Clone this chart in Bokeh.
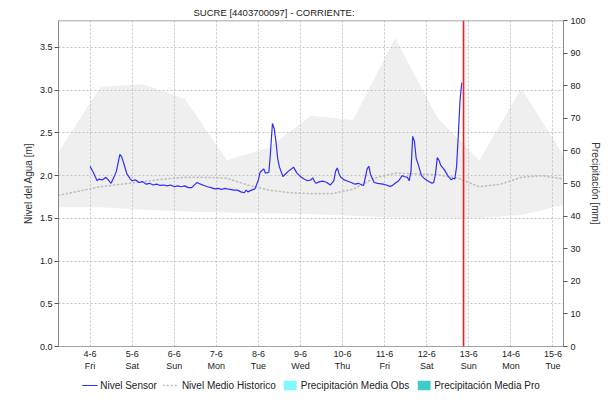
import pandas as pd
from bokeh.plotting import figure
from bokeh.layouts import column
from bokeh.models import (Range1d, LinearAxis, FixedTicker, Span, Legend, LegendItem,
                          CustomJSTickFormatter, NumeralTickFormatter)
from bokeh.embed import file_html
from bokeh.resources import INLINE

# ---------------- data ----------------
title_text = "SUCRE [4403700097] - CORRIENTE:"

sensor_start = "2021-06-04 00:00"
sensor_hours = [0, 2, 4, 5, 7, 9, 10, 12, 14, 15, 17, 18, 19, 21, 23, 24, 26, 28, 30, 32,
                34, 36, 38, 40, 42, 44, 46, 48, 50, 52, 54, 56, 58, 60, 61, 63, 65, 67, 69, 71,
                73, 75, 77, 78, 80, 82, 84, 86, 88, 89, 90, 92, 94, 96, 97, 99, 100, 102, 103, 104,
                105, 106, 107, 108, 110, 111, 113, 115, 116, 118, 120, 122, 124, 126, 127, 128, 129, 131, 133, 135,
                137, 139, 140, 141, 142, 143, 145, 147, 149, 151, 153, 155, 156, 157, 158, 159, 160, 162, 164, 167,
                169, 171, 172, 174, 176, 178, 179, 181, 182, 183, 184, 185, 186, 187, 189, 191, 193, 195, 196, 197,
                198, 199, 200, 202, 204, 206, 207, 208, 209, 210, 211, 212]
sensor_level = [2.11, 2.03, 1.94, 1.96, 1.95, 1.98, 1.96, 1.91, 2.00, 2.05, 2.25, 2.22, 2.16, 2.02, 1.96, 1.94, 1.95, 1.92, 1.93, 1.90,
                1.91, 1.89, 1.90, 1.885, 1.89, 1.88, 1.89, 1.87, 1.88, 1.87, 1.88, 1.86, 1.86, 1.90, 1.92, 1.90, 1.885, 1.87, 1.86, 1.845,
                1.85, 1.84, 1.85, 1.845, 1.84, 1.83, 1.83, 1.81, 1.80, 1.83, 1.81, 1.83, 1.845, 1.95, 2.04, 2.08, 2.03, 2.04, 2.30, 2.61,
                2.55, 2.40, 2.20, 2.10, 1.99, 2.01, 2.05, 2.08, 2.10, 2.03, 1.99, 1.96, 1.94, 1.95, 1.975, 1.93, 1.91, 1.93, 1.935, 1.92,
                1.89, 1.94, 2.05, 2.09, 2.02, 1.98, 1.95, 1.935, 1.92, 1.90, 1.91, 1.89, 1.885, 1.98, 2.08, 2.11, 2.01, 1.92, 1.91, 1.90,
                1.89, 1.875, 1.88, 1.91, 1.94, 2.00, 1.99, 1.98, 1.94, 2.05, 2.46, 2.40, 2.20, 2.14, 2.00, 1.96, 1.935, 1.91, 1.92, 2.02,
                2.21, 2.18, 2.12, 2.07, 2.00, 1.95, 1.97, 1.96, 2.10, 2.47, 2.88, 3.09]

band_times = ["2021-06-03 06:00", "2021-06-04 06:00", "2021-06-05 06:00", "2021-06-06 06:00",
              "2021-06-07 06:00", "2021-06-08 06:00", "2021-06-09 06:00", "2021-06-10 06:00",
              "2021-06-11 06:00", "2021-06-12 06:00", "2021-06-13 06:00", "2021-06-14 06:00",
              "2021-06-15 06:00"]
band_upper = [2.28, 3.04, 3.07, 2.90, 2.18, 2.33, 2.70, 2.65, 3.61, 2.68, 2.18, 3.02, 2.24]
band_lower = [1.63, 1.63, 1.60, 1.58, 1.57, 1.56, 1.55, 1.53, 1.51, 1.50, 1.50, 1.54, 1.66]

hist_times = ["2021-06-03 06:00", "2021-06-03 18:00", "2021-06-04 06:00", "2021-06-04 18:00",
              "2021-06-05 06:00", "2021-06-05 18:00", "2021-06-06 06:00", "2021-06-06 18:00",
              "2021-06-07 06:00", "2021-06-07 18:00", "2021-06-08 06:00", "2021-06-08 18:00",
              "2021-06-09 06:00", "2021-06-09 18:00", "2021-06-10 06:00", "2021-06-10 18:00",
              "2021-06-11 06:00", "2021-06-11 18:00", "2021-06-12 06:00", "2021-06-12 18:00",
              "2021-06-13 06:00", "2021-06-13 18:00", "2021-06-14 06:00", "2021-06-14 18:00",
              "2021-06-15 06:00"]
hist_level = [1.77, 1.82, 1.87, 1.90, 1.93, 1.96, 1.98, 1.98, 1.97, 1.89, 1.83, 1.80, 1.79,
              1.79, 1.84, 1.97, 2.03, 2.02, 2.01, 1.97, 1.87, 1.90, 1.98, 2.00, 1.96]

# no precipitation recorded in the window (zero-height bars)
precip_obs_times = ["2021-06-12 12:00"]
precip_obs = [0.0]
precip_pro_times = ["2021-06-13 12:00"]
precip_pro = [0.0]

now_time = "2021-06-12 21:00"
day_ticks = ["2021-06-04", "2021-06-05", "2021-06-06", "2021-06-07", "2021-06-08", "2021-06-09",
             "2021-06-10", "2021-06-11", "2021-06-12", "2021-06-13", "2021-06-14", "2021-06-15"]
x_start, x_end = "2021-06-03 06:00", "2021-06-15 06:00"
level_ticks = [0.0, 0.5, 1.0, 1.5, 2.0, 2.5, 3.0, 3.5]
level_max = 3.816
precip_ticks = [0, 10, 20, 30, 40, 50, 60, 70, 80, 90, 100]
precip_max = 100

# ---------------- styles ----------------
FONT = "Liberation Sans"
SENSOR = dict(line_color="#2e2eff", line_width=1.2)
HIST = dict(line_color="#bdbdbd", line_width=1.6, line_dash="1 3", line_cap="round")
OBS = dict(fill_color="#7ff9f9", line_color=None)
PRO = dict(fill_color="#3fcaca", line_color=None)

def ms(s):
    return pd.Timestamp(s).value / 1e6

sensor_x = [t.value / 1e6 for t in pd.Timestamp(sensor_start) + pd.to_timedelta(sensor_hours, unit="h")]
hist_x = [ms(t) for t in hist_times]
obs_x = [ms(t) for t in precip_obs_times]
pro_x = [ms(t) for t in precip_pro_times]
day_ms = [ms(d) for d in day_ticks]

# ---------------- main figure ----------------
p = figure(x_axis_type="datetime", frame_width=505, frame_height=326,
           x_range=Range1d(ms(x_start), ms(x_end)), y_range=Range1d(0, level_max),
           output_backend="svg", toolbar_location=None,
           min_border_left=58, min_border_right=40, min_border_top=20, min_border_bottom=0)
p.outline_line_color = None
p.background_fill_color = "white"
p.border_fill_color = "white"

p.title.text = title_text
p.title.align = "left"
p.title.offset = 135
p.title.text_font = FONT
p.title.text_font_size = "9.5px"
p.title.text_font_style = "normal"
p.title.text_color = "#222222"
p.title.standoff = 5

p.extra_y_ranges = {"precip": Range1d(0, precip_max)}

for g in (p.xgrid, p.ygrid):
    g.grid_line_color = "#c4c4c4"
    g.grid_line_dash = "2 2"
    g.grid_line_width = 1
p.xgrid.ticker = FixedTicker(ticks=day_ms)
p.ygrid.ticker = FixedTicker(ticks=level_ticks)

def style_x(ax, standoff):
    ax.axis_label = None
    ax.major_tick_line_color = None
    ax.minor_tick_line_color = None
    ax.major_tick_out = 0
    ax.major_tick_in = 0
    ax.minor_tick_out = 0
    ax.minor_tick_in = 0
    ax.major_label_standoff = standoff
    ax.major_label_text_font = FONT
    ax.major_label_text_font_size = "9px"
    ax.major_label_text_color = "#222222"

xa = p.xaxis[0]
xa.ticker = FixedTicker(ticks=day_ms)
xa.formatter = CustomJSTickFormatter(code="""
const d = new Date(tick);
return d.getUTCDate() + '-' + (d.getUTCMonth()+1);
""")
style_x(xa, 4)
xa.axis_line_color = "#444444"
xa.axis_line_dash = "1 1"

xa2 = LinearAxis(ticker=FixedTicker(ticks=day_ms),
                 formatter=CustomJSTickFormatter(code="""
const names = ['Sun','Mon','Tue','Wed','Thu','Fri','Sat'];
return names[new Date(tick).getUTCDay()];
"""))
style_x(xa2, 1)
xa2.axis_line_color = None
p.add_layout(xa2, "below")

ya = p.yaxis[0]
ya.ticker = FixedTicker(ticks=level_ticks)
ya.formatter = NumeralTickFormatter(format="0.0")
ya.axis_label = "Nivel del Agua [m]"
ya.axis_label_text_font = FONT
ya.axis_label_text_font_size = "10px"
ya.axis_label_text_font_style = "normal"
ya.axis_label_text_color = "#333333"
ya.axis_label_standoff = 3
ya.major_label_text_font = FONT
ya.major_label_text_font_size = "9px"
ya.major_label_text_color = "#222222"
ya.major_label_standoff = 2
ya.major_tick_out = 4
ya.major_tick_in = 0
ya.minor_tick_line_color = None
ya.axis_line_color = "#888888"
ya.major_tick_line_color = "#555555"

ra = LinearAxis(y_range_name="precip", ticker=FixedTicker(ticks=precip_ticks),
                axis_label="Precipitación [mm]")
ra.axis_label_text_font = FONT
ra.axis_label_text_font_size = "10px"
ra.axis_label_text_font_style = "normal"
ra.axis_label_text_color = "#333333"
ra.axis_label_standoff = 1
ra.major_label_text_font = FONT
ra.major_label_text_font_size = "9px"
ra.major_label_text_color = "#222222"
ra.major_label_standoff = 3
ra.major_tick_out = 4
ra.major_tick_in = 0
ra.minor_tick_line_color = None
ra.axis_line_color = "#888888"
ra.major_tick_line_color = "#555555"
p.add_layout(ra, "right")

p.add_layout(Span(location=level_max, dimension="width", line_color="#888888", line_width=1.5))

band = p.varea(x=[ms(t) for t in band_times], y1=band_lower, y2=band_upper, fill_color="#efefef")
band.level = "image"
p.line(hist_x, hist_level, **HIST)
p.line(sensor_x, sensor_level, **SENSOR)
p.vbar(x=obs_x, top=precip_obs, width=3600000, y_range_name="precip", **OBS)
p.vbar(x=pro_x, top=precip_pro, width=3600000, y_range_name="precip", **PRO)
p.segment(x0=[ms(now_time)], y0=[0], x1=[ms(now_time)], y1=[level_max],
          line_color="#ff1a1a", line_width=1.6)

# ---------------- legend strip (separate small figure) ----------------
q = figure(width=603, height=24, x_range=p.x_range, y_range=Range1d(10, 11),
           x_axis_location=None, y_axis_location=None, output_backend="svg",
           toolbar_location=None, min_border_left=18, min_border_right=0,
           min_border_top=0, min_border_bottom=0)
q.outline_line_color = None
q.grid.visible = False
q.background_fill_color = "white"
q.border_fill_color = "white"
# same series, drawn outside this strip's visible range: only their legend glyphs show
l_sensor = q.line(sensor_x, sensor_level, **SENSOR)
l_hist = q.line(hist_x, hist_level, **HIST)
l_obs = q.vbar(x=obs_x, top=precip_obs, width=3600000, **OBS)
l_pro = q.vbar(x=pro_x, top=precip_pro, width=3600000, **PRO)

legend = Legend(items=[LegendItem(label="Nivel Sensor", renderers=[l_sensor]),
                       LegendItem(label="Nivel Medio Historico", renderers=[l_hist]),
                       LegendItem(label="Precipitación Media Obs", renderers=[l_obs]),
                       LegendItem(label="Precipitación Media Pro", renderers=[l_pro])],
                orientation="horizontal", location="center",
                label_text_font=FONT, label_text_font_size="10px", label_text_color="#222222",
                glyph_width=16, glyph_height=12, label_standoff=3, spacing=6,
                padding=1, margin=0, border_line_color=None, background_fill_alpha=0,
                label_height=12)
q.add_layout(legend, "center")

layout = column(p, q, spacing=0)
open("out.html", "w").write(file_html(layout, INLINE))
